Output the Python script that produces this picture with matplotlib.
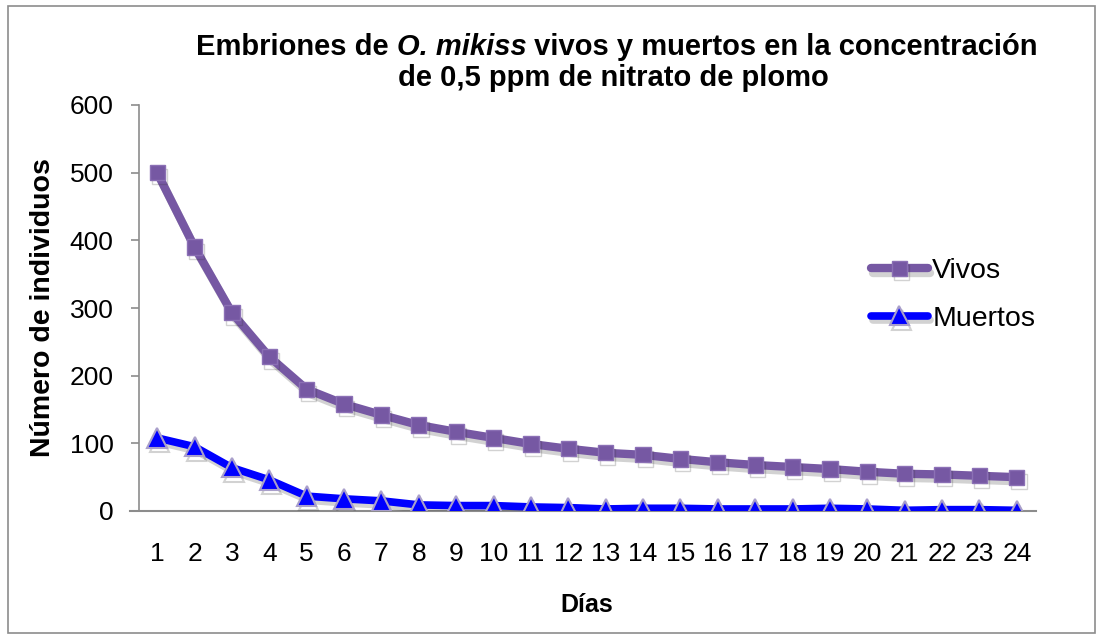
import matplotlib
matplotlib.use("Agg")
import matplotlib.pyplot as plt
import matplotlib.patheffects as pe
from matplotlib.patches import Rectangle

dias = [str(i) for i in range(1, 25)]
vivos = [500, 390, 293, 228, 180, 158, 142, 127, 117, 108, 99, 92, 86, 83, 77, 72,
         68, 65, 62, 58, 55, 54, 52, 50]
muertos = [108, 95, 64, 46, 22, 18, 15, 9, 8, 8, 6, 5, 3, 4, 4, 3,
           3, 3, 4, 3, 1, 2, 2, 1]
yticks = [0, 100, 200, 300, 400, 500, 600]

plt.rcParams['font.family'] = ['Liberation Sans', 'DejaVu Sans']

W, H = 1104, 639
fig = plt.figure(figsize=(W / 100, H / 100), dpi=100)
ax = fig.add_axes([138.5 / W, 1 - 511 / H, (1035.5 - 138.5) / W, (511 - 105) / H])

# outer border
fig.patches.append(Rectangle((8 / W, 6 / H), (1095 - 8) / W, (633 - 6) / H,
                             transform=fig.transFigure, fill=False,
                             edgecolor='#8c8c8c', linewidth=1.2))

x = list(range(len(dias)))
shadow = [pe.SimpleLineShadow(offset=(1.5, -3), shadow_color='#333333', alpha=0.22), pe.Normal()]
l1, = ax.plot(x, vivos, color='#7658A3', linewidth=6, marker='s', markersize=11,
              markerfacecolor='#7658A3', markeredgecolor='#8B70B5', markeredgewidth=1,
              label='Vivos', solid_capstyle='round', path_effects=shadow, zorder=3)
l2, = ax.plot(x, muertos, color='#0000FF', linewidth=5.5, marker='^', markersize=14,
              markerfacecolor='#0000FF', markeredgecolor='#A99FCB', markeredgewidth=1.5,
              label='Muertos', solid_capstyle='round', path_effects=shadow, zorder=3)

ax.set_xlim(-0.5, len(dias) - 0.5)
ax.set_ylim(0, 600)
ax.set_yticks(yticks)
ax.set_xticks(x)
ax.set_xticklabels(dias)
ax.tick_params(axis='y', direction='out', length=6, width=1.2, color='#8c8c8c',
               labelsize=19, pad=12)
ax.tick_params(axis='x', length=0, labelsize=19, pad=22)
for s in ['top', 'right']:
    ax.spines[s].set_visible(False)
ax.spines['left'].set_color('#8c8c8c')
ax.spines['bottom'].set_color('#8c8c8c')
ax.spines['left'].set_linewidth(1.2)
ax.spines['bottom'].set_linewidth(1.5)
ax.spines['bottom'].set_bounds(-0.72, len(dias) - 0.5)
ax.set_axisbelow(True)

ax.set_ylabel('Número de individuos', fontsize=20.5, fontweight='bold', labelpad=10)
ax.set_xlabel('Días', fontsize=18, fontweight='bold', labelpad=20)

# Title with italic species name, line 1 assembled from pieces
fs_t = 21
parts = [('Embriones de ', 'normal'), ('O. mikiss', 'italic'),
         (' vivos y muertos en la concentración', 'normal')]
renderer = fig.canvas.get_renderer()
texts = []
for s, st in parts:
    t = fig.text(0, 1 - 47 / H, s, ha='left', va='center', fontsize=fs_t,
                 fontweight='bold', fontstyle=st)
    texts.append(t)
widths = [t.get_window_extent(renderer).width for t in texts]
total = sum(widths)
x0 = 617 - total / 2
for t, w in zip(texts, widths):
    t.set_x(x0 / W)
    x0 += w
fig.text(613 / W, 1 - 78 / H, 'de 0,5 ppm de nitrato de plomo',
         ha='center', va='center', fontsize=fs_t, fontweight='bold')

leg = ax.legend(handles=[l1, l2], loc='center left',
                bbox_to_anchor=((871 - 138.5) / (1035.5 - 138.5), (511 - 295) / 406),
                frameon=False, fontsize=20.5, handlelength=2.0, handletextpad=0.15,
                labelspacing=0.75, borderaxespad=0, borderpad=0)

fig.savefig('out.png', dpi=100)
